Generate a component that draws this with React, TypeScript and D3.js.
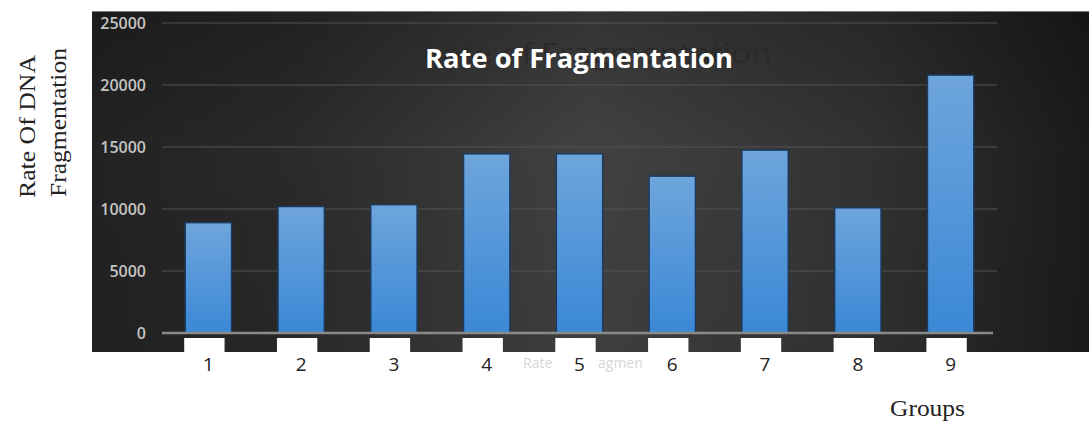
import React from "react";
import * as d3 from "d3";

const groups = ["1", "2", "3", "4", "5", "6", "7", "8", "9"];
const values = [8900, 10200, 10350, 14450, 14450, 12650, 14750, 10100, 20800];
const yTicks = [0, 5000, 10000, 15000, 20000, 25000];
const chartTitle = "Rate of Fragmentation";
const yTitleLines = ["Rate Of DNA", "Fragmentation"];
const xTitle = "Groups";
const legendPieces = [
  { text: "Rate", x: 523 },
  { text: "agmen", x: 598 },
];

const W = 1089;
const H = 423;

export default function App() {
  const x = d3
    .scaleBand<string>()
    .domain(groups)
    .range([162, 997])
    .paddingInner(0.5)
    .paddingOuter(0.25);
  const y = d3.scaleLinear().domain([0, 25000]).range([333, 23]);
  const bw = x.bandwidth();

  return (
    <svg
      width={W}
      height={H}
      style={{ position: "absolute", left: 0, top: 0, background: "#fff" }}
    >
      <defs>
        <linearGradient id="bgH" x1="0" y1="0" x2="1" y2="0">
          <stop offset="0%" stopColor="#242424" />
          <stop offset="20%" stopColor="#2c2c2c" />
          <stop offset="50%" stopColor="#454545" />
          <stop offset="78%" stopColor="#343434" />
          <stop offset="100%" stopColor="#1c1c1c" />
        </linearGradient>
        <linearGradient id="bgV" x1="0" y1="0" x2="0" y2="1">
          <stop offset="0%" stopColor="#000" stopOpacity="0.25" />
          <stop offset="40%" stopColor="#000" stopOpacity="0.05" />
          <stop offset="100%" stopColor="#000" stopOpacity="0.1" />
        </linearGradient>
        <linearGradient id="barG" x1="0" y1="0" x2="0" y2="1">
          <stop offset="0%" stopColor="#6ea5dc" />
          <stop offset="100%" stopColor="#3b88d6" />
        </linearGradient>
      </defs>

      {/* dark plot background */}
      <rect x={92} y={11} width={W - 92} height={341} fill="url(#bgH)" />
      <rect x={92} y={11} width={W - 92} height={341} fill="url(#bgV)" />
      <line x1={92} x2={W} y1={11.5} y2={11.5} stroke="#777" strokeWidth={1} />

      {/* gridlines */}
      {yTicks
        .filter((t) => t > 0)
        .map((t) => (
          <line
            key={t}
            x1={162}
            x2={997}
            y1={y(t)}
            y2={y(t)}
            stroke="#525252"
            strokeWidth={1.2}
          />
        ))}

      {/* y tick labels */}
      {yTicks.map((t) => (
        <text
          key={t}
          x={146}
          y={y(t) + 6}
          textAnchor="end"
          fontFamily="Open Sans, sans-serif"
          fontWeight={600}
          fontSize={16}
          fill="#c4c4c4"
        >
          {t}
        </text>
      ))}

      {/* ghost title */}
      <text
        x={422}
        y={63}
        fontFamily="Open Sans, sans-serif"
        fontSize={28}
        fill="#2a2a2a"
        textLength={350}
        lengthAdjust="spacingAndGlyphs"
      >
        {chartTitle}
      </text>
      {/* title */}
      <text
        x={425}
        y={68}
        fontFamily="Open Sans, sans-serif"
        fontWeight="bold"
        fontSize={27}
        fill="#ffffff"
        textLength={308}
        lengthAdjust="spacingAndGlyphs"
      >
        {chartTitle}
      </text>

      {/* bars */}
      {groups.map((g, i) => (
        <rect
          key={g}
          x={x(g)}
          y={y(values[i])}
          width={bw}
          height={y(0) - y(values[i])}
          fill="url(#barG)"
          stroke="#1c3a5e"
          strokeWidth={1.5}
        />
      ))}

      {/* axis line */}
      <line x1={162} x2={993} y1={333} y2={333} stroke="#8a8a8a" strokeWidth={2.5} />

      {/* white label boxes under bars */}
      {groups.map((g) => (
        <rect
          key={"wb" + g}
          x={(x(g) as number) - 1}
          y={338}
          width={bw * 0.87}
          height={14}
          fill="#ffffff"
        />
      ))}

      {/* x tick labels */}
      {groups.map((g) => (
        <text
          key={"xl" + g}
          x={(x(g) as number) + bw / 2}
          y={371}
          textAnchor="middle"
          fontFamily="Open Sans, sans-serif"
          fontSize={19}
          fill="#222"
        >
          {g}
        </text>
      ))}

      {/* faint legend remnants */}
      {legendPieces.map((p) => (
        <text
          key={p.text}
          x={p.x}
          y={368}
          fontFamily="Open Sans, sans-serif"
          fontSize={14}
          fill="#d6d6d6"
        >
          {p.text}
        </text>
      ))}

      {/* x axis title */}
      <text
        x={890}
        y={416}
        fontFamily="Liberation Serif, Times New Roman, serif"
        fontSize={24}
        fill="#222"
        textLength={75}
        lengthAdjust="spacingAndGlyphs"
      >
        {xTitle}
      </text>

      {/* y axis title */}
      <text
        transform="translate(35,198) rotate(-90)"
        fontFamily="Liberation Serif, Times New Roman, serif"
        fontSize={24}
        fill="#222"
        textLength={143}
        lengthAdjust="spacingAndGlyphs"
      >
        {yTitleLines[0]}
      </text>
      <text
        transform="translate(66,197) rotate(-90)"
        fontFamily="Liberation Serif, Times New Roman, serif"
        fontSize={24}
        fill="#222"
        textLength={149}
        lengthAdjust="spacingAndGlyphs"
      >
        {yTitleLines[1]}
      </text>
    </svg>
  );
}
